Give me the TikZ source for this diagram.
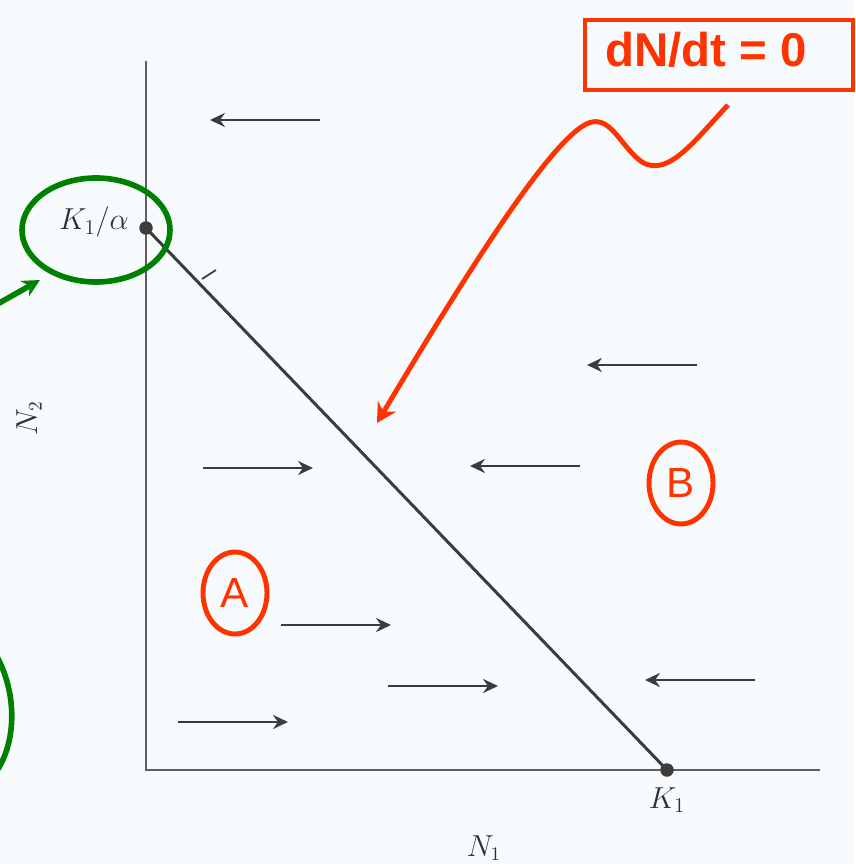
\documentclass[tikz,border=0pt]{standalone}
\usepackage{fontspec}
\newfontfamily\arialfont{Liberation Sans}
\usetikzlibrary{arrows.meta, positioning, shapes.geometric}
\definecolor{markred}{RGB}{255,51,0}
\definecolor{markgreen}{RGB}{0,128,0}
\definecolor{inkgray}{RGB}{60,60,60}
\definecolor{axisgray}{RGB}{95,95,95}
\definecolor{paper}{RGB}{248,251,253}

\begin{document}
\begin{tikzpicture}[x=0.02cm, y=-0.02cm,
  axisline/.style={draw=axisgray, line width=1.1pt},
  fieldarrow/.style={draw=inkgray, line width=1.1pt, -{Stealth[length=8.5pt, width=8pt]}},
  enddot/.style={circle, fill=inkgray, inner sep=0pt, minimum size=0.27cm},
  axislabel/.style={anchor=base, text=inkgray!80!black},
  redline/.style={draw=markred, line width=2.8pt},
  greenline/.style={draw=markgreen, line width=3.2pt},
  regionmark/.style={ellipse, redline, inner sep=0pt, minimum width=1.28cm,
    minimum height=1.64cm, text=markred, font=\arialfont\fontsize{24}{28}\selectfont}]
  % page
  \fill[paper] (0,0) rectangle (855,864);
  \useasboundingbox (0,0) rectangle (855,864);
  % axes
  \coordinate (origin) at (146,770);
  \draw[axisline] (146,61) -- (origin) -- (820,770);
  % isocline
  \node[enddot] (k1a) at (146,228) {};
  \node[enddot] (k1) at (667,770) {};
  \draw[draw=inkgray, line width=1.7pt] (k1a.center) -- (k1.center);
  \draw[draw=inkgray, line width=1pt] (202,279) -- (216,270);
  % labels
  \node[axislabel, font=\fontsize{17}{20}\selectfont] (k1alab) at (94,230) {$K_1/\alpha$};
  \node[axislabel, font=\fontsize{17}{20}\selectfont] (k1lab) at (667,808) {$K_1$};
  \node[axislabel, font=\fontsize{16}{19}\selectfont] (n1lab) at (484,856) {$N_1$};
  \node[axislabel, rotate=90, font=\fontsize{16}{19}\selectfont] (n2lab) at (37,418) {$N_2$};
  % trajectories
  \foreach \xa/\xb/\y in {320/210/120, 697/587/365, 580/470/466, 755/645/680,
      203/313/468, 281/391/625, 388/498/686, 178/288/722}
    \draw[fieldarrow] (\xa,\y) -- (\xb,\y);
  % regions
  \node[regionmark] (rega) at (235,593) {A};
  \node[regionmark] (regb) at (681,483) {B};
  % isocline note
  \node[redline, minimum width=5.36cm, minimum height=1.4cm] (eqbox) at (719,55) {};
  \node[text=markred, font=\arialfont\bfseries\fontsize{27}{32}\selectfont] (eqtext)
    at (706,50) {dN/dt = 0};
  \coordinate (rstart) at (728,105);
  \coordinate (rtip) at (377,423);
  \draw[redline, -{Stealth[length=11pt, width=12pt]}] (rstart)
    .. controls (695,140) and (668,178) .. (642,162)
    .. controls (622,148) and (612,118) .. (592,122)
    .. controls (560,128) and (480,250) .. (rtip);
  % intercept marks
  \draw[greenline] (96,230) ellipse [x radius=74, y radius=52];
  \coordinate (gstart) at (-6,306);
  \coordinate (gtip) at (40,280);
  \draw[greenline, -{Stealth[length=10pt, width=10pt]}] (gstart) -- (gtip);
  \draw[greenline] (-4,655) .. controls (16,690) and (18,740) .. (-4,772);
\end{tikzpicture}
\end{document}
